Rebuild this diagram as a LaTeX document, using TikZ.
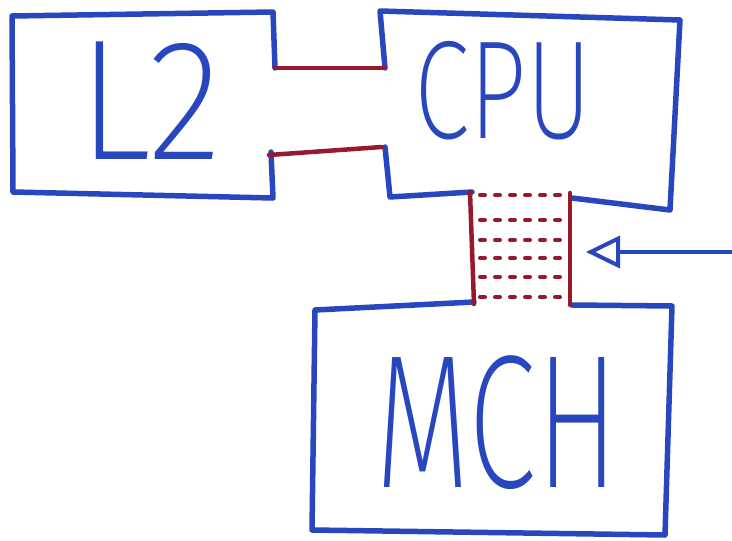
\documentclass[tikz,border=0pt]{standalone}
\usepackage{fontspec}
\setmainfont{Liberation Sans}
\newfontfamily\handfont{Fira Sans}[UprightFont={* ExtraLight}]
\usepackage{tikz}
\usetikzlibrary{arrows.meta,positioning,calc}

\definecolor{penblue}{RGB}{40,70,190}
\definecolor{penred}{RGB}{150,25,45}

\begin{document}
\begin{tikzpicture}[x=1pt,y=-1pt,
    pen/.style={penblue, line width=5.5pt, line join=round, line cap=round},
    bus/.style={penred, line width=4.5pt, line cap=round},
    busline/.style={penred, line width=4pt, line cap=round, dash pattern=on 5pt off 10pt},
    label/.style={penblue, inner sep=0pt, text depth=0pt}]
    \useasboundingbox (0,0) rectangle (732,541);
    % L2 box
    \draw[pen] (275,68) -- (273,12) -- (12,16) -- (13,192) -- (273,198) -- (271,152);
    % CPU box
    \draw[pen] (385,68) -- (380,11) -- (680,20) -- (670,210) -- (572,198);
    \draw[pen] (385,147) -- (390,197) -- (472,192);
    % MCH box
    \draw[pen] (474,302) -- (315,310) -- (312,530) -- (665,535) -- (672,306) -- (572,305);
    % L2 -- CPU link
    \draw[bus] (275,68) -- (385,68);
    \draw[bus] (269,155) -- (382,147);
    % CPU -- MCH bus
    \draw[bus] (470,192) -- (474,304);
    \draw[bus] (570,193) -- (570,305);
    \foreach \y in {195,220,240,258,277,297}
        \draw[busline] (480,\y) -- (565,\y);
    % arrow
    \coordinate (src) at (732,252);
    \coordinate (tip) at (586,252);
    \draw[pen, line width=4pt, -{Triangle[open,length=34pt,width=32pt,line width=4pt]}] (src) -- (tip);
    % labels
    \node[label, text height=118pt, font=\handfont\fontsize{172}{172}\selectfont, xscale=0.9] (l2) at (150,100) {L2};
    \node[label, text height=97pt, font=\handfont\fontsize{140}{140}\selectfont, xscale=0.72] (cpu) at (503,90) {CPU};
    \node[label, text height=131pt, font=\handfont\fontsize{190}{190}\selectfont, xscale=0.65] (mch) at (497,422) {MCH};
\end{tikzpicture}
\end{document}
